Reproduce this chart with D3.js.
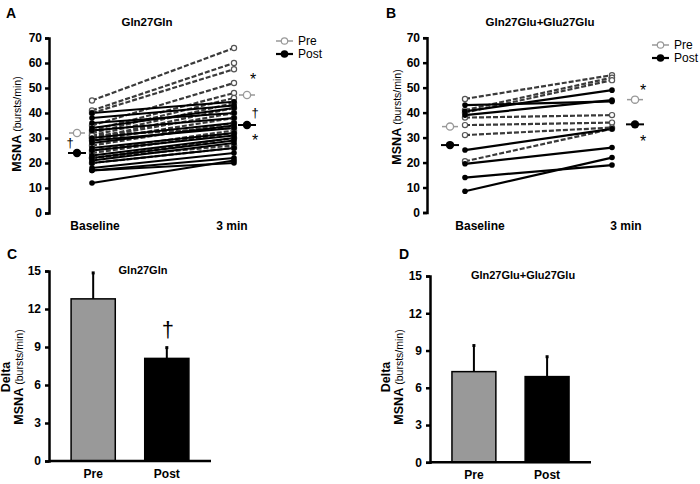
<!DOCTYPE html>
<html><head><meta charset="utf-8">
<script src="https://cdn.jsdelivr.net/npm/d3@7"></script>
<style>body{margin:0;background:#fff}svg{display:block;font-family:"Liberation Sans",Arial,sans-serif}</style>
</head><body><svg id="c" width="700" height="484"></svg>
<script>
const timepoints = ["Baseline", "3 min"];
const yTicksLine = [0,10,20,30,40,50,60,70];
const yTicksBar = [0,3,6,9,12,15];
const barCats = ["Pre","Post"];

// Panel A: Gln27Gln individual responses [baseline, 3 min]
const A_pre = [[45,66],[41,60],[40,57.5],[35,52],[33,48],[32,46],[31,44],[30,42],[30,40],[29,38],[27,36],[25,33],[24,32],[22,30],[22,27],[20,26],[31,34]];
const A_post = [[40,44.5],[38,43],[36,40],[34,42],[33,38],[30,36],[29,34],[28,35],[26,32],[25,31],[23,30],[22,29],[21,28],[20,26],[18,24],[17,22],[17,20],[12,21]];
const A_preMean = [32, 47.2];
const A_postMean = [24, 35.2];

// Panel B: Gln27Glu+Glu27Glu
const B_pre = [[45.5,55],[41,54],[40,53],[38,39],[35,36],[31,34],[20.5,33.5]];
const B_post = [[43,44.5],[40.5,49],[39,45],[25,33.5],[19.5,26],[14,19],[8.5,22]];
const B_preMean = [34.4, 45.2];
const B_postMean = [27, 35.3];

// Panels C, D: delta MSNA (mean, SE)
const C_means = [12.8, 8.1];
const C_err = [2.05, 0.85];
const D_means = [7.3, 6.9];
const D_err = [2.1, 1.6];

const svg = d3.select("#c");
const FONT = '"Liberation Sans",Arial,sans-serif';

function letter(x,y,t){svg.append("text").attr("x",x).attr("y",y).attr("font-size",14).attr("font-weight","bold").text(t);}

function yLabel(cx, cy, withDelta, dx){
  const g = svg.append("g").attr("transform",`translate(${cx},${cy}) rotate(-90)`);
  const t = g.append("text").attr("text-anchor","middle").attr("y",0);
  t.append("tspan").attr("font-size",12.5).attr("font-weight","bold").text("MSNA ");
  t.append("tspan").attr("font-size",10.5).text("(bursts/min)");
  if(withDelta){
    g.append("text").attr("text-anchor","middle").attr("y",-dx).attr("font-size",12.5).attr("font-weight","bold").text("Delta");
  }
}

function linePanel(o){
  const x = d3.scalePoint().domain(timepoints).range([o.x0,o.x1]);
  const y = d3.scaleLinear().domain([0,70]).range([o.yb,o.yt]);
  const ax = d3.axisLeft(y).tickValues(yTicksLine).tickSize(4).tickPadding(3);
  const g = svg.append("g").attr("transform",`translate(${o.ax},0)`).call(ax);
  g.select(".domain").attr("stroke","#000").attr("stroke-width",2.5);
  g.selectAll(".tick line").attr("stroke","#000").attr("stroke-width",2.5);
  g.selectAll(".tick text").attr("font-size",12).attr("font-weight","bold").attr("font-family",FONT).attr("fill","#000");

  const line = d3.line().x((d,i)=>x(timepoints[i])).y(d=>y(d));
  o.pre.forEach(d=>{
    svg.append("path").attr("d",line(d)).attr("fill","none").attr("stroke","#3a3a3a").attr("stroke-width",2.2).attr("stroke-dasharray","5,2");
  });
  o.post.forEach(d=>{
    svg.append("path").attr("d",line(d)).attr("fill","none").attr("stroke","#000").attr("stroke-width",2.2);
  });
  o.pre.forEach(d=>d.forEach((v,i)=>{
    svg.append("circle").attr("cx",x(timepoints[i])).attr("cy",y(v)).attr("r",2.6).attr("fill","#fff").attr("stroke","#555").attr("stroke-width",1.2);
  }));
  o.post.forEach(d=>d.forEach((v,i)=>{
    svg.append("circle").attr("cx",x(timepoints[i])).attr("cy",y(v)).attr("r",2.8).attr("fill","#000");
  }));
  const offs = [o.mOff0, o.mOff1];
  o.preMean.forEach((v,i)=>{
    const cx = x(timepoints[i])+offs[i];
    svg.append("line").attr("x1",cx-8).attr("x2",cx+8).attr("y1",y(v)).attr("y2",y(v)).attr("stroke","#999").attr("stroke-width",1.5);
    svg.append("circle").attr("cx",cx).attr("cy",y(v)).attr("r",3.6).attr("fill","#fff").attr("stroke","#999").attr("stroke-width",1.3);
  });
  o.postMean.forEach((v,i)=>{
    const cx = x(timepoints[i])+offs[i];
    svg.append("line").attr("x1",cx-9).attr("x2",cx+9).attr("y1",y(v)).attr("y2",y(v)).attr("stroke","#000").attr("stroke-width",2);
    svg.append("circle").attr("cx",cx).attr("cy",y(v)).attr("r",4.2).attr("fill","#000");
  });
  svg.append("text").attr("x",x("Baseline")+o.bOff).attr("y",o.yb+17).attr("text-anchor","middle").attr("font-size",12).attr("font-weight","bold").text("Baseline");
  svg.append("text").attr("x",x("3 min")+o.mOffT).attr("y",o.yb+17).attr("text-anchor","middle").attr("font-size",12).attr("font-weight","bold").text("3 min");
  svg.append("text").attr("x",o.tx).attr("y",26).attr("text-anchor","middle").attr("font-size",11.5).attr("font-weight","bold").text(o.title);
  const lx = o.lx, ly = o.ly;
  svg.append("line").attr("x1",lx).attr("x2",lx+17).attr("y1",ly).attr("y2",ly).attr("stroke","#999").attr("stroke-width",1.5);
  svg.append("circle").attr("cx",lx+8.5).attr("cy",ly).attr("r",3.2).attr("fill","#fff").attr("stroke","#999").attr("stroke-width",1.2);
  svg.append("line").attr("x1",lx).attr("x2",lx+17).attr("y1",ly+13).attr("y2",ly+13).attr("stroke","#000").attr("stroke-width",2.2);
  svg.append("circle").attr("cx",lx+8.5).attr("cy",ly+13).attr("r",3.8).attr("fill","#000");
  svg.append("text").attr("x",lx+22).attr("y",ly+4.3).attr("font-size",12).text("Pre");
  svg.append("text").attr("x",lx+22).attr("y",ly+17.3).attr("font-size",12).text("Post");
  return {x,y};
}

const pA = linePanel({ax:49, x0:92, x1:234, yb:213, yt:38, pre:A_pre, post:A_post, preMean:A_preMean, postMean:A_postMean,
  mOff0:-15, mOff1:13, bOff:3, mOffT:-2, tx:147, title:"Gln27Gln", lx:276, ly:41});
const pB = linePanel({ax:427, x0:465, x1:612, yb:212.5, yt:37.7, pre:B_pre, post:B_post, preMean:B_preMean, postMean:B_postMean,
  mOff0:-15, mOff1:23, bOff:15, mOffT:14, tx:540, title:"Gln27Glu+Glu27Glu", lx:652, ly:45});

function mark(x,y,t,s){svg.append("text").attr("x",x).attr("y",y).attr("text-anchor","middle").attr("font-size",s||14).attr("fill","#000").text(t);}
mark(70, 147, "†", 13);
mark(pA.x("3 min")+19, pA.y(A_preMean[1])-10, "*", 16);
mark(pA.x("3 min")+21, pA.y(A_postMean[1])-8, "†", 13);
mark(pA.x("3 min")+21, pA.y(A_postMean[1])+21, "*", 16);
mark(pB.x("3 min")+31, pB.y(B_preMean[1])-4, "*", 16);
mark(pB.x("3 min")+31, pB.y(B_postMean[1])+23, "*", 16);

yLabel(21, 124, false);
yLabel(401, 117, false);

function barPanel(o){
  const x = d3.scaleBand().domain(barCats).range([o.x0,o.x1]).paddingInner(0.4).paddingOuter(0.3);
  const y = d3.scaleLinear().domain([0,15]).range([o.yb,o.yt]);
  const ax = d3.axisLeft(y).tickValues(yTicksBar).tickSize(4).tickPadding(4);
  const g = svg.append("g").attr("transform",`translate(${o.x0},0)`).call(ax);
  g.select(".domain").attr("stroke","#000").attr("stroke-width",2.5);
  g.selectAll(".tick line").attr("stroke","#000").attr("stroke-width",2.5);
  g.selectAll(".tick text").attr("font-size",12).attr("font-weight","bold").attr("font-family",FONT).attr("fill","#000");
  const colors = ["#999999","#000000"];
  barCats.forEach((c,i)=>{
    const cx = x(c)+x.bandwidth()/2;
    svg.append("line").attr("x1",cx).attr("x2",cx).attr("y1",y(o.means[i])).attr("y2",y(o.means[i]+o.err[i])).attr("stroke","#000").attr("stroke-width",2);
    svg.append("line").attr("x1",cx-1.5).attr("x2",cx+1.5).attr("y1",y(o.means[i]+o.err[i])).attr("y2",y(o.means[i]+o.err[i])).attr("stroke","#000").attr("stroke-width",3);
    svg.append("rect").attr("x",x(c)).attr("y",y(o.means[i])).attr("width",x.bandwidth()).attr("height",y(0)-y(o.means[i])).attr("fill",colors[i]).attr("stroke","#000").attr("stroke-width",1.5);
    svg.append("text").attr("x",cx).attr("y",o.yb+17).attr("text-anchor","middle").attr("font-size",12).attr("font-weight","bold").text(c);
  });
  svg.append("line").attr("x1",o.x0).attr("x2",o.x1).attr("y1",o.yb).attr("y2",o.yb).attr("stroke","#000").attr("stroke-width",2.5);
  svg.append("text").attr("x",o.tx).attr("y",o.yt+3).attr("text-anchor","middle").attr("font-size",11).attr("font-weight","bold").text(o.title);
  return {x,y};
}

const pC = barPanel({x0:49, x1:211, yb:461, yt:271, means:C_means, err:C_err, tx:143, title:"Gln27Gln"});
const pD = barPanel({x0:430, x1:591, yb:462.3, yt:276, means:D_means, err:D_err, tx:523, title:"Gln27Glu+Glu27Glu"});
mark(pC.x("Post")+pC.x.bandwidth()/2+1, 337, "†", 22);

yLabel(23, 377, true, 13);
yLabel(403, 377, true, 13);

letter(6, 18, "A");
letter(386, 18, "B");
letter(7, 259, "C");
letter(399, 259, "D");
</script></body></html>
